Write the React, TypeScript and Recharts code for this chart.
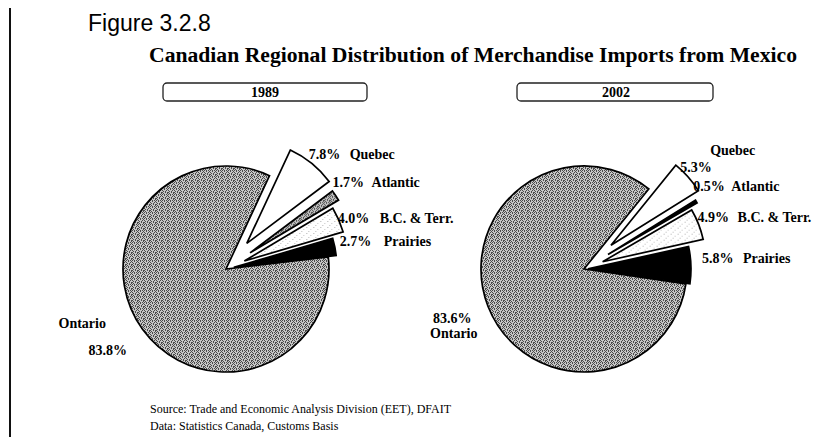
import { PieChart, Pie, Cell } from 'recharts';

// Regional shares of merchandise imports from Mexico, percent
const REGIONS = ['Quebec', 'Atlantic', 'B.C. & Terr.', 'Prairies', 'Ontario'];
const SHARE_1989 = [7.8, 1.7, 4.0, 2.7, 83.8];
const SHARE_2002 = [5.3, 0.5, 4.9, 5.8, 83.6];
const YEARS = ['1989', '2002'];

const FILLS_1989 = ['#ffffff', 'url(#grain)', 'url(#speckle)', '#000000', 'url(#grain)'];
const FILLS_2002 = ['#ffffff', '#000000', 'url(#speckle)', '#000000', 'url(#grain)'];

// how far each slice is pulled out of the pie, px
const EXPLODE_1989 = [33, 29, 20, 8, 0];
const EXPLODE_2002 = [36, 28, 20, 4, 0];

// label nudges: dx/dy move the percent from the slice's outer mid point,
// nx/ny place the region name relative to the percent
const LABELS_1989 = [
  { dx: -3, dy: -4, nx: 41, ny: 0 },
  { dx: -3, dy: -8, nx: 39, ny: 0 },
  { dx: -1, dy: 3, nx: 42, ny: 0 },
  { dx: 5, dy: -1, nx: 44, ny: 0 },
  { dx: -54, dy: 26, nx: -30, ny: -27 },
];
const LABELS_2002 = [
  { dx: -8, dy: -5, nx: 30, ny: -17 },
  { dx: -3, dy: -10, nx: 38, ny: 0 },
  { dx: -1, dy: -2, nx: 40, ny: 0 },
  { dx: 11, dy: -2, nx: 41, ny: 0 },
  { dx: -55, dy: 17, nx: -3, ny: 15 },
];

// dither tile for the grey slices ('#' = dark dot)
const GRAIN = ['#..#.#', '.#...#', '#.#.#.', '..#..#', '#...#.', '.#.#..'];

const SERIF = '"Liberation Serif", "Times New Roman", serif';
const SANS = '"Liberation Sans", Arial, sans-serif';

// mid angle of every slice when the pie runs clockwise from `start`
function midAngles(values: number[], start: number) {
  const total = values.reduce((a, b) => a + b, 0);
  let a = start;
  return values.map((v) => {
    const span = (v / total) * 360;
    const m = a - span / 2;
    a -= span;
    return m;
  });
}

function renderPie(
  id: string,
  values: number[],
  cx: number,
  cy: number,
  startAngle: number,
  fills: string[],
  explode: number[],
  labels: { dx: number; dy: number; nx: number; ny: number }[]
) {
  const data = REGIONS.map((name, i) => ({ name, value: values[i] }));
  const mids = midAngles(values, startAngle);

  const renderLabel = (props: any) => {
    const { midAngle, outerRadius, index } = props;
    const l = labels[index];
    const r = outerRadius + explode[index];
    const rad = (midAngle * Math.PI) / 180;
    const x = cx + r * Math.cos(rad) + l.dx;
    const y = cy - r * Math.sin(rad) + l.dy;
    return (
      <text
        key={`${id}-label-${index}`}
        x={x}
        y={y}
        fill="#000"
        fontFamily={SERIF}
        fontWeight="bold"
        fontSize={14}
      >
        <tspan>{`${values[index].toFixed(1)}%`}</tspan>
        <tspan x={x + l.nx} y={y + l.ny}>{REGIONS[index]}</tspan>
      </text>
    );
  };

  return (
    <Pie
      key={id}
      data={data}
      dataKey="value"
      nameKey="name"
      cx={cx}
      cy={cy}
      outerRadius={103}
      startAngle={startAngle}
      endAngle={startAngle - 360}
      stroke="#000"
      strokeWidth={1.7}
      label={renderLabel}
      labelLine={false}
      isAnimationActive={false}
    >
      {data.map((d, i) => {
        const rad = (mids[i] * Math.PI) / 180;
        const tx = explode[i] * Math.cos(rad);
        const ty = -explode[i] * Math.sin(rad);
        return <Cell key={`${id}-${d.name}`} fill={fills[i]} transform={`translate(${tx}, ${ty})`} />;
      })}
    </Pie>
  );
}

export default function App() {
  return (
    <div style={{ position: 'relative', width: 831, height: 445, margin: -8, background: '#fff' }}>
      <svg width={0} height={0} style={{ position: 'absolute' }}>
        <defs>
          <pattern id="grain" width={6} height={6} patternUnits="userSpaceOnUse">
            <rect width={6} height={6} fill="#c6c6c6" />
            {GRAIN.flatMap((row, y) =>
              row.split('').map((c, x) =>
                c === '#' ? <rect key={`g${x}-${y}`} x={x} y={y} width={1} height={1} fill="#4a4a4a" /> : null
              )
            )}
          </pattern>
          <pattern id="speckle" width={7} height={6} patternUnits="userSpaceOnUse">
            <rect width={7} height={6} fill="#fff" />
            <rect x={1} y={1} width={1} height={1} fill="#b0b0b0" />
            <rect x={5} y={3} width={1} height={1} fill="#c4c4c4" />
            <rect x={3} y={5} width={1} height={1} fill="#b8b8b8" />
          </pattern>
        </defs>
      </svg>

      <PieChart width={831} height={445} margin={{ top: 0, right: 0, bottom: 0, left: 0 }}>
        {renderPie('y1989', SHARE_1989, 226, 269, 65, FILLS_1989, EXPLODE_1989, LABELS_1989)}
        {renderPie('y2002', SHARE_2002, 584, 269, 51, FILLS_2002, EXPLODE_2002, LABELS_2002)}
      </PieChart>

      <svg
        width={831}
        height={445}
        style={{ position: 'absolute', left: 0, top: 0, pointerEvents: 'none' }}
      >
        {/* frame */}
        <line x1={10} y1={6} x2={10} y2={445} stroke="#111" strokeWidth={2} />
        <line x1={9} y1={6} x2={70} y2={6} stroke="#111" strokeWidth={2} />
        <line x1={70} y1={6} x2={720} y2={6} stroke="#888" strokeWidth={1.5} strokeDasharray="8 3" />
        <line x1={720} y1={6} x2={831} y2={6} stroke="#111" strokeWidth={2} />

        <text x={88} y={31} fontFamily={SANS} fontSize={23} fill="#000">
          Figure 3.2.8
        </text>
        <text
          x={149}
          y={62}
          fontFamily={SERIF}
          fontWeight="bold"
          fontSize={20}
          fill="#000"
          textLength={648}
          lengthAdjust="spacingAndGlyphs"
        >
          Canadian Regional Distribution of Merchandise Imports from Mexico
        </text>

        {/* year boxes */}
        <rect x={163} y={83} width={204} height={18} rx={4} fill="none" stroke="#222" strokeWidth={1.3} />
        <text x={265} y={97} textAnchor="middle" fontFamily={SERIF} fontWeight="bold" fontSize={14} fill="#000">
          {YEARS[0]}
        </text>
        <rect x={517} y={83} width={196} height={18} rx={4} fill="none" stroke="#222" strokeWidth={1.3} />
        <text x={616} y={97} textAnchor="middle" fontFamily={SERIF} fontWeight="bold" fontSize={14} fill="#000">
          {YEARS[1]}
        </text>

        <text x={150} y={413} fontFamily={SERIF} fontSize={12} fill="#000">
          Source: Trade and Economic Analysis Division (EET), DFAIT
        </text>
        <text x={150} y={430} fontFamily={SERIF} fontSize={12} fill="#000">
          Data: Statistics Canada, Customs Basis
        </text>
      </svg>
    </div>
  );
}
